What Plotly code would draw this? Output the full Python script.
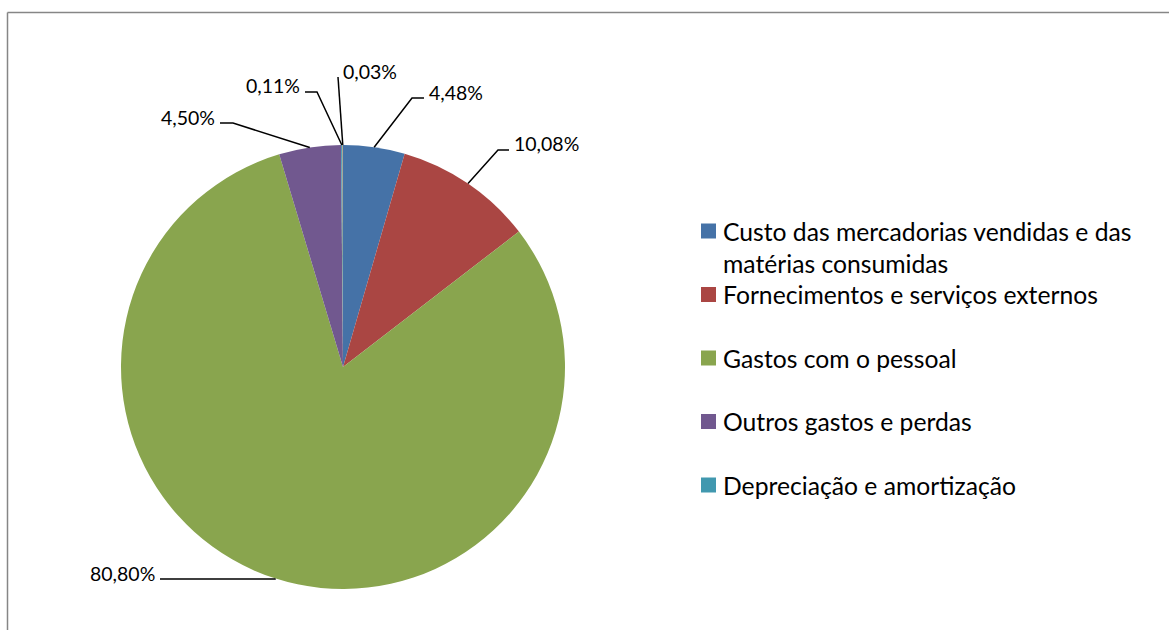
import math
import textwrap
import plotly.graph_objects as go

W, H = 1169, 630

# dados
categorias = [
    "Custo das mercadorias vendidas e das matérias consumidas",
    "Fornecimentos e serviços externos",
    "Gastos com o pessoal",
    "Outros gastos e perdas",
    "Depreciação e amortização",
    "",
]
valores = [4.48, 10.08, 80.80, 4.50, 0.11, 0.03]
cores = ["#4572A7", "#AA4643", "#89A54E", "#71588F", "#4198AF", "#DB843D"]

# posicao dos rotulos (pixels): ponta da linha junto ao texto, braco horizontal, lado
rot_ponta = [(424, 98), (509, 150), (160, 579), (220, 123), (305, 92), (338, 77)]
rot_braco = [12, 11, 115, 13, 12, 0]
rot_lado = ["r", "r", "l", "l", "l", "r"]

FONTE = "Lato"

# area da pizza em pixels
px0, px1, py0, py1 = 121, 565, 145, 589
cx, cy = (px0 + px1) / 2, (py0 + py1) / 2
raio = (px1 - px0) / 2


def fx(p):
    return p / W


def fy(p):
    return 1 - p / H


fig = go.Figure()
fig.add_trace(go.Pie(
    labels=[c if c else " " for c in categorias],
    values=valores,
    sort=False,
    direction="clockwise",
    rotation=0,
    marker=dict(colors=cores, line=dict(width=0)),
    textinfo="none",
    hoverinfo="label+percent",
    showlegend=False,
    domain=dict(x=[fx(px0), fx(px1)], y=[fy(py1), fy(py0)]),
))

shapes = []
annotations = []

# rotulos com linhas de chamada
total = sum(valores)
acum = 0
for i, v in enumerate(valores):
    ang = 2 * math.pi * (acum + v / 2) / total
    acum += v
    ex = cx + raio * math.sin(ang)
    ey = cy - raio * math.cos(ang)
    tx, ty = rot_ponta[i]
    sinal = -1 if rot_lado[i] == "r" else 1
    cot_x = tx + sinal * rot_braco[i]
    shapes.append(dict(
        type="path", xref="paper", yref="paper",
        path="M %f,%f L %f,%f L %f,%f" % (fx(tx), fy(ty), fx(cot_x), fy(ty), fx(ex), fy(ey)),
        line=dict(color="black", width=1.5),
    ))
    texto = ("%.2f%%" % v).replace(".", ",")
    if rot_lado[i] == "r":
        annotations.append(dict(x=fx(tx + 3), y=fy(ty - 6), xref="paper", yref="paper",
                                text=texto, showarrow=False, xanchor="left", yanchor="middle",
                                font=dict(family=FONTE, size=19.5, color="black")))
    else:
        annotations.append(dict(x=fx(tx - 3), y=fy(ty - 6), xref="paper", yref="paper",
                                text=texto, showarrow=False, xanchor="right", yanchor="middle",
                                font=dict(family=FONTE, size=19.5, color="black")))

# legenda desenhada
leg_y0 = 231
leg_passo = 63.5
for i, c in enumerate(categorias):
    if not c:
        continue
    yc = leg_y0 + i * leg_passo
    shapes.append(dict(type="rect", xref="paper", yref="paper",
                       x0=fx(701), x1=fx(716), y0=fy(yc + 7.5), y1=fy(yc - 7.5),
                       fillcolor=cores[i], line=dict(width=0)))
    for j, linha in enumerate(textwrap.wrap(c, 36)):
        annotations.append(dict(x=fx(721), y=fy(yc + j * 32), xref="paper", yref="paper",
                                text=linha, showarrow=False, xanchor="left", yanchor="middle",
                                font=dict(family=FONTE, size=24.7, color="black")))

# moldura
shapes.append(dict(type="line", xref="paper", yref="paper", x0=fx(7.5), x1=1, y0=fy(12.5), y1=fy(12.5),
                   line=dict(color="#868686", width=1.5)))
shapes.append(dict(type="line", xref="paper", yref="paper", x0=fx(7.5), x1=fx(7.5), y0=fy(12.5), y1=0,
                   line=dict(color="#868686", width=1.5)))

fig.update_layout(
    width=W, height=H,
    margin=dict(l=0, r=0, t=0, b=0),
    paper_bgcolor="white",
    plot_bgcolor="white",
    shapes=shapes,
    annotations=annotations,
)

fig.write_html("out.html", config={"displayModeBar": False},
               post_script="document.body.style.margin='0';document.body.style.overflow='hidden';")
